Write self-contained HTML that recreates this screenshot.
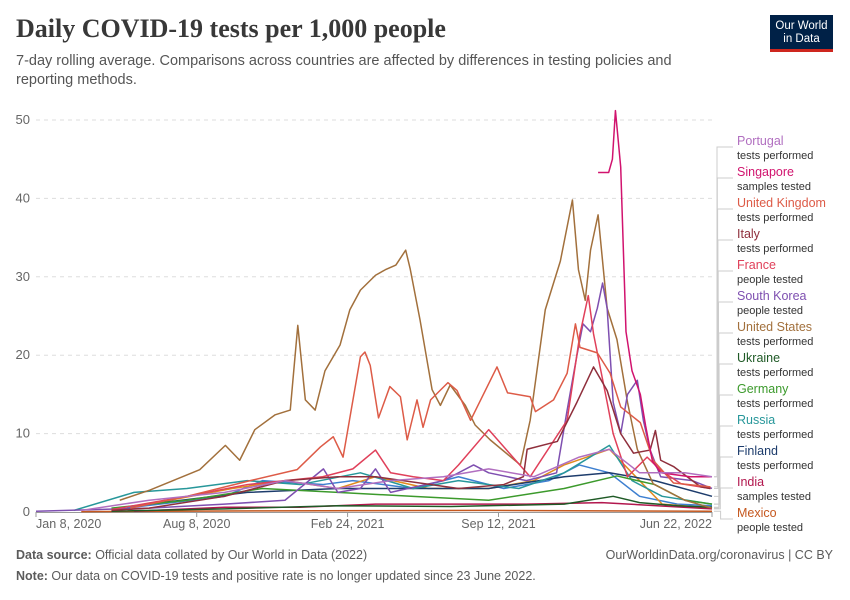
<!DOCTYPE html>
<html><head><meta charset="utf-8"><style>
body{margin:0;width:850px;height:600px;background:#fff;font-family:"Liberation Sans",sans-serif;overflow:hidden;position:relative}
.t{position:absolute;white-space:nowrap}
</style></head><body>
<div class="t" style="left:16px;top:14px;font-family:'Liberation Serif',serif;font-weight:bold;font-size:26px;color:#383838">Daily COVID-19 tests per 1,000 people</div>
<div class="t" style="left:16px;top:52px;font-size:14.5px;color:#555;line-height:19px;white-space:normal;width:700px">7-day rolling average. Comparisons across countries are affected by differences in testing policies and reporting methods.</div>
<div style="position:absolute;left:770px;top:15px;width:63px;height:37px;background:#002147;border-bottom:3px solid #ce261e;box-sizing:border-box;color:#fff;font-size:11.5px;line-height:13px;text-align:center;padding-top:5px">Our World<br>in Data</div>
<svg id="chart" width="850" height="600" style="position:absolute;left:0;top:0"></svg>
<div class="t" style="left:16px;top:548px;font-size:12.5px;color:#5b5b5b"><b>Data source:</b> Official data collated by Our World in Data (2022)</div>
<div class="t" style="right:17px;top:548px;font-size:12.5px;color:#5b5b5b">OurWorldinData.org/coronavirus | CC BY</div>
<div class="t" style="left:16px;top:569px;font-size:12.5px;color:#5b5b5b"><b>Note:</b> Our data on COVID-19 tests and positive rate is no longer updated since 23 June 2022.</div>
<script>
const yTicks=[0,10,20,30,40,50];
const xTickDays=[0,213,413,613,896];
const xTickLabels=["Jan 8, 2020","Aug 8, 2020","Feb 24, 2021","Sep 12, 2021","Jun 22, 2022"];
const names=["Portugal","Singapore","United Kingdom","Italy","France","South Korea","United States","Ukraine","Germany","Russia","Finland","India","Mexico"];
const subs=["tests performed","samples tested","tests performed","tests performed","people tested","people tested","tests performed","tests performed","tests performed","tests performed","tests performed","samples tested","people tested"];
const colors=["#b16fc0","#d1136e","#dd5b47","#8f2f3c","#e0405a","#7e4fb0","#a2703c","#1f5a26","#3c9a2c","#27979a","#1d3c6c","#b2174e","#c5581f"];
const daysPortugal=[60,150,250,330,400,470,540,600,660,720,760,800,860,896];
const valsPortugal=[0.2,1.5,2.5,4,3,4,4.5,5.5,4.5,7,8,5,5,4.5];
const daysSingapore=[745,759,764,768,775,782,790,801,808,817,828,867,896];
const valsSingapore=[43.3,43.3,45,51.2,44,23,18,15,11,6.5,5,4.5,4.5];
const daysUK=[125,200,284,346,377,394,407,430,436,443,454,469,483,492,505,513,523,546,558,576,611,625,655,662,686,704,715,721,744,761,775,801,818,845,894];
const valsUK=[0.5,2,4,5.4,8.3,9.6,7,19.8,20.4,18.7,12,16,14.7,9.2,14.3,10.8,14.3,16.5,15.5,11.7,18.5,15.2,14.7,12.8,14.3,17.7,24,21,20.3,17.7,13.4,11.4,6.6,3.7,3.2];
const daysItaly=[100,150,250,330,400,450,560,620,646,651,691,717,739,757,775,792,814,821,828,845,881,894];
const valsItaly=[0.2,0.5,2,4,4.5,4.5,3,3.5,4.5,8,9,14,18.5,15.5,10,7.5,7.9,10.4,6.6,5.8,3.2,3];
const daysFrance=[100,200,280,330,380,420,450,470,500,540,560,600,655,704,721,732,739,757,765,784,810,828,855,894];
const valsFrance=[0.3,2,3.5,4,4.5,5.5,7.9,5,4.5,4,6,10.5,4.5,11.7,22.7,27.6,22.7,14,10,4.5,7,5.3,3.6,3];
const daysKorea=[0,150,250,330,381,400,430,450,470,540,580,600,650,690,704,717,725,735,744,751,757,765,775,784,797,805,814,828,870,896];
const valsKorea=[0.1,0.5,1,1.5,5.5,2.5,3,5.5,2.5,4,6,5,4,5,13,20,24,23,26,29.2,26,14,10,15,16.8,11.7,7.9,4.5,4,3];
const daysUS=[111,151,217,251,270,290,317,337,347,357,370,383,403,416,430,450,463,477,490,496,509,525,536,549,569,582,602,642,655,675,695,711,719,728,735,745,757,770,784,797,818,860,896];
const valsUS=[1.5,2.8,5.4,8.5,6.6,10.5,12.4,13,23.8,14.3,13,18,21.3,25.8,28.3,30.2,30.9,31.5,33.4,31,24.5,15.6,13.6,16.2,13.6,11.1,9.2,6,11.7,25.8,32,39.8,30.9,27,33.4,37.9,26,22,14,8,3.6,1.5,0.5];
const daysUkraine=[100,250,400,550,700,765,800,850,896];
const valsUkraine=[0.1,0.4,0.8,0.7,1,2,1.2,0.8,0.6];
const daysGermany=[100,200,300,400,500,600,700,770,820,860,896];
const valsGermany=[0.5,1.5,3,2.5,2,1.5,3,4.6,3.5,1.5,1];
const daysRussia=[50,130,200,280,350,430,500,560,640,700,760,790,830,896];
const valsRussia=[0.2,2.5,3,4,3.5,5,3,4,3,5,8.5,4,2,1];
const daysFinland=[150,280,400,500,600,700,760,820,896];
const valsFinland=[1,2.5,3,3,3,4.5,5,4,2];
const daysIndia=[130,250,350,450,550,650,750,896];
const valsIndia=[0.1,0.6,0.6,1,1,1,1.2,0.4];
const daysMexico=[60,300,600,896];
const valsMexico=[0.05,0.15,0.2,0.1];
const daysBlue=[120,250,300,380,420,500,560,620,680,720,760,800,850,896];
const valsBlue=[0.5,2,4,3.5,4,3,4.5,3,4,6,5,2,1,0.8];
const daysOrange=[150,260,330,400,450,520,600,660,700,760,790,830,896];
const valsOrange=[1,3,4,3,4.5,3,3,4,6,8,5,1,0.5];
const seriesDays=[daysPortugal,daysSingapore,daysUK,daysItaly,daysFrance,daysKorea,daysUS,daysUkraine,daysGermany,daysRussia,daysFinland,daysIndia,daysMexico];
const seriesVals=[valsPortugal,valsSingapore,valsUK,valsItaly,valsFrance,valsKorea,valsUS,valsUkraine,valsGermany,valsRussia,valsFinland,valsIndia,valsMexico];

const NS="http://www.w3.org/2000/svg";
const svg=document.getElementById('chart');
const X=d=>36+d*(676/896);
const Y=v=>512-v*7.84;
function mk(tag,attrs){const e=document.createElementNS(NS,tag);for(const k in attrs)e.setAttribute(k,attrs[k]);svg.appendChild(e);return e;}
yTicks.forEach(v=>{
  if(v>0){const g=mk('line',{x1:36,x2:712,y1:Y(v),y2:Y(v),stroke:'#ddd','stroke-dasharray':'4,4'});
  
  }
  const t=mk('text',{x:30,y:Y(v)+4,'text-anchor':'end','font-size':13,fill:'#666','font-family':'Liberation Sans'});
  t.textContent=v;
  
  
});
const ax=mk('line',{x1:36,x2:712,y1:512.5,y2:512.5,stroke:'#999'});


xTickDays.forEach((d,i)=>{
  const tk=mk('line',{x1:X(d),x2:X(d),y1:512,y2:517,stroke:'#999'});
  
  
  const t=mk('text',{x:X(d),y:528,'text-anchor':i==0?'start':(i==4?'end':'middle'),'font-size':12.5,fill:'#666','font-family':'Liberation Sans'});
  t.textContent=xTickLabels[i];
  
  
});
function drawLine(days,vals,color,name){
  const p=mk('polyline',{points:days.map((d,i)=>X(d)+','+Y(vals[i])).join(' '),fill:'none',stroke:color,'stroke-width':1.5,'stroke-linejoin':'round'});
  
  
}
drawLine(daysBlue,valsBlue,'#3d7fd0','line-other-blue');
drawLine(daysOrange,valsOrange,'#e08a1e','line-other-orange');
for(let i=seriesDays.length-1;i>=0;i--){
  drawLine(seriesDays[i],seriesVals[i],colors[i],'line-'+names[i].toLowerCase().replace(/ /g,'-'));
}
names.forEach((n,i)=>{
  const ly=140+i*31;
  const c=mk('polyline',{points:`714,${Y(seriesVals[i][seriesVals[i].length-1])} ${717+i*0.3},${Y(seriesVals[i][seriesVals[i].length-1])} ${717+i*0.3},${ly+7} 733,${ly+7}`,fill:'none',stroke:'#ccc','stroke-width':1});
  
  
  const t=mk('text',{x:737,y:ly+5,'font-size':12.5,fill:colors[i],'font-family':'Liberation Sans'});
  t.textContent=n;
  
  
  const s=mk('text',{x:737,y:ly+19,'font-size':11,fill:'#333','font-family':'Liberation Sans'});
  s.textContent=subs[i];
  
  
});
</script>
</body></html>
